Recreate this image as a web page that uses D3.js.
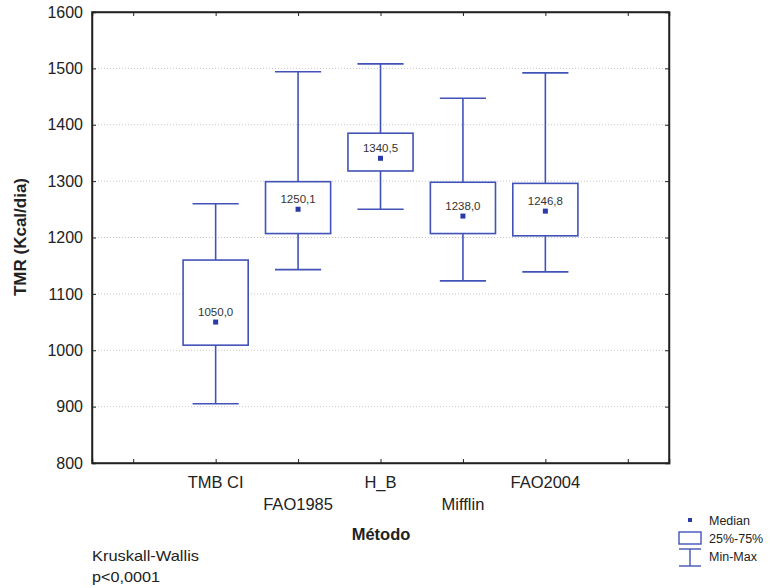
<!DOCTYPE html>
<html><head><meta charset="utf-8">
<script src="https://cdn.jsdelivr.net/npm/d3@7"></script>
<style>body{margin:0;background:#fff}svg{display:block}text{font-family:"Liberation Sans",Arial,sans-serif}</style>
</head><body>
<svg id="c" width="773" height="588"></svg>
<script>
const categories = ["TMB CI","FAO1985","H_B","Mifflin","FAO2004"];
const minVals    = [905, 1143, 1250, 1123, 1139];
const q1Vals     = [1009, 1207, 1318, 1207, 1203];
const medianVals = [1050.0, 1250.1, 1340.5, 1238.0, 1246.8];
const q3Vals     = [1160, 1299, 1385, 1298, 1296];
const maxVals    = [1260, 1494, 1508, 1447, 1492];
const yTicks     = [800,900,1000,1100,1200,1300,1400,1500,1600];
const fmt = v => v.toFixed(1).replace(".", ",");

const svg = d3.select("#c");
const L = 92, R = 669, T = 12, B = 463;
const blue = "#4253b8", dotBlue = "#2a3aa8";

const slots = ["_a", ...categories, "_b"];
const x = d3.scalePoint().domain(slots).range([L, R]).padding(0.5);
const bw = x.step();
const y = d3.scaleLinear().domain([800, 1600]).range([B, T]);

// gridlines
svg.append("g").selectAll("line").data(yTicks.slice(1, -1)).join("line")
  .attr("x1", L).attr("x2", R).attr("y1", d => y(d)).attr("y2", d => y(d))
  .attr("stroke", "#c8c8c8").attr("stroke-width", 1).attr("stroke-dasharray", "1,2");

// axes with inward ticks
const axL = svg.append("g").attr("transform", `translate(${L},0)`)
  .call(d3.axisLeft(y).tickValues(yTicks).tickSize(-4).tickPadding(9).tickFormat(d3.format("d")));
const axR = svg.append("g").attr("transform", `translate(${R},0)`)
  .call(d3.axisRight(y).tickValues(yTicks).tickSize(-4).tickFormat(""));
const axB = svg.append("g").attr("transform", `translate(0,${B})`)
  .call(d3.axisBottom(x).tickSize(-4).tickFormat(""));
const axT = svg.append("g").attr("transform", `translate(0,${T})`)
  .call(d3.axisTop(x).tickSize(-4).tickFormat(""));
[axL, axR, axB, axT].forEach(a => {
  a.select(".domain").attr("stroke", "#222").attr("stroke-width", 1.5);
  a.selectAll(".tick line").attr("stroke", "#222").attr("stroke-width", 1);
});
axL.selectAll(".tick text").attr("font-size", 16).attr("fill", "#222")
  .attr("font-family", "Liberation Sans, Arial, sans-serif");
// frame
svg.append("rect").attr("x", L).attr("y", T).attr("width", R - L).attr("height", B - T)
  .attr("fill", "none").attr("stroke", "#222").attr("stroke-width", 1.5);

// category labels (alternating rows)
svg.append("g").selectAll("text").data(categories).join("text")
  .attr("x", d => x(d)).attr("y", (d, i) => i % 2 === 0 ? 488 : 510)
  .attr("text-anchor", "middle").attr("font-size", 16.5).attr("fill", "#222").text(d => d);

// boxes
const g = svg.append("g");
categories.forEach((c, i) => {
  const cx = x(c), hw = bw * 0.395, cw = bw * 0.28;
  g.append("line").attr("x1", cx).attr("x2", cx).attr("y1", y(maxVals[i])).attr("y2", y(q3Vals[i]))
    .attr("stroke", blue).attr("stroke-width", 1.6);
  g.append("line").attr("x1", cx).attr("x2", cx).attr("y1", y(q1Vals[i])).attr("y2", y(minVals[i]))
    .attr("stroke", blue).attr("stroke-width", 1.6);
  [maxVals[i], minVals[i]].forEach(v => g.append("line")
    .attr("x1", cx - cw).attr("x2", cx + cw).attr("y1", y(v)).attr("y2", y(v))
    .attr("stroke", blue).attr("stroke-width", 1.6));
  g.append("rect").attr("x", cx - hw).attr("width", 2 * hw)
    .attr("y", y(q3Vals[i])).attr("height", y(q1Vals[i]) - y(q3Vals[i]))
    .attr("fill", "#fff").attr("stroke", blue).attr("stroke-width", 1.6);
  g.append("rect").attr("x", cx - 2.5).attr("y", y(medianVals[i]) - 2.5).attr("width", 5).attr("height", 5)
    .attr("fill", dotBlue);
  g.append("text").attr("x", cx).attr("y", y(medianVals[i]) - 6).attr("text-anchor", "middle")
    .attr("font-size", 11.5).attr("fill", "#333").text(fmt(medianVals[i]));
});

// axis titles
svg.append("text").attr("x", 381).attr("y", 540).attr("text-anchor", "middle")
  .attr("font-size", 16.5).attr("font-weight", "bold").attr("fill", "#222").text("Método");
svg.append("text").attr("transform", "translate(26,237) rotate(-90)").attr("text-anchor", "middle")
  .attr("font-size", 17).attr("font-weight", "bold").attr("fill", "#222").text("TMR (Kcal/dia)");

// stats note
svg.append("text").attr("x", 92).attr("y", 561).attr("font-size", 14.5).attr("fill", "#222")
  .attr("textLength", 107).attr("lengthAdjust", "spacingAndGlyphs").text("Kruskall-Wallis");
svg.append("text").attr("x", 92).attr("y", 582).attr("font-size", 14.5).attr("fill", "#222")
  .attr("textLength", 68).attr("lengthAdjust", "spacingAndGlyphs").text("p<0,0001");

// legend
const lg = svg.append("g");
lg.append("rect").attr("x", 688).attr("y", 518).attr("width", 4).attr("height", 4).attr("fill", dotBlue);
lg.append("text").attr("x", 709).attr("y", 525).attr("font-size", 12.5).attr("fill", "#222").text("Median");
lg.append("rect").attr("x", 679).attr("y", 532).attr("width", 22).attr("height", 12)
  .attr("fill", "none").attr("stroke", blue).attr("stroke-width", 1.4);
lg.append("text").attr("x", 709).attr("y", 543).attr("font-size", 12.5).attr("fill", "#222").text("25%-75%");
lg.append("line").attr("x1", 679).attr("x2", 701).attr("y1", 549).attr("y2", 549).attr("stroke", blue).attr("stroke-width", 1.4);
lg.append("line").attr("x1", 679).attr("x2", 701).attr("y1", 566).attr("y2", 566).attr("stroke", blue).attr("stroke-width", 1.4);
lg.append("line").attr("x1", 690).attr("x2", 690).attr("y1", 549).attr("y2", 566).attr("stroke", blue).attr("stroke-width", 1.4);
lg.append("text").attr("x", 709).attr("y", 561).attr("font-size", 12.5).attr("fill", "#222").text("Min-Max");
</script>
</body></html>
